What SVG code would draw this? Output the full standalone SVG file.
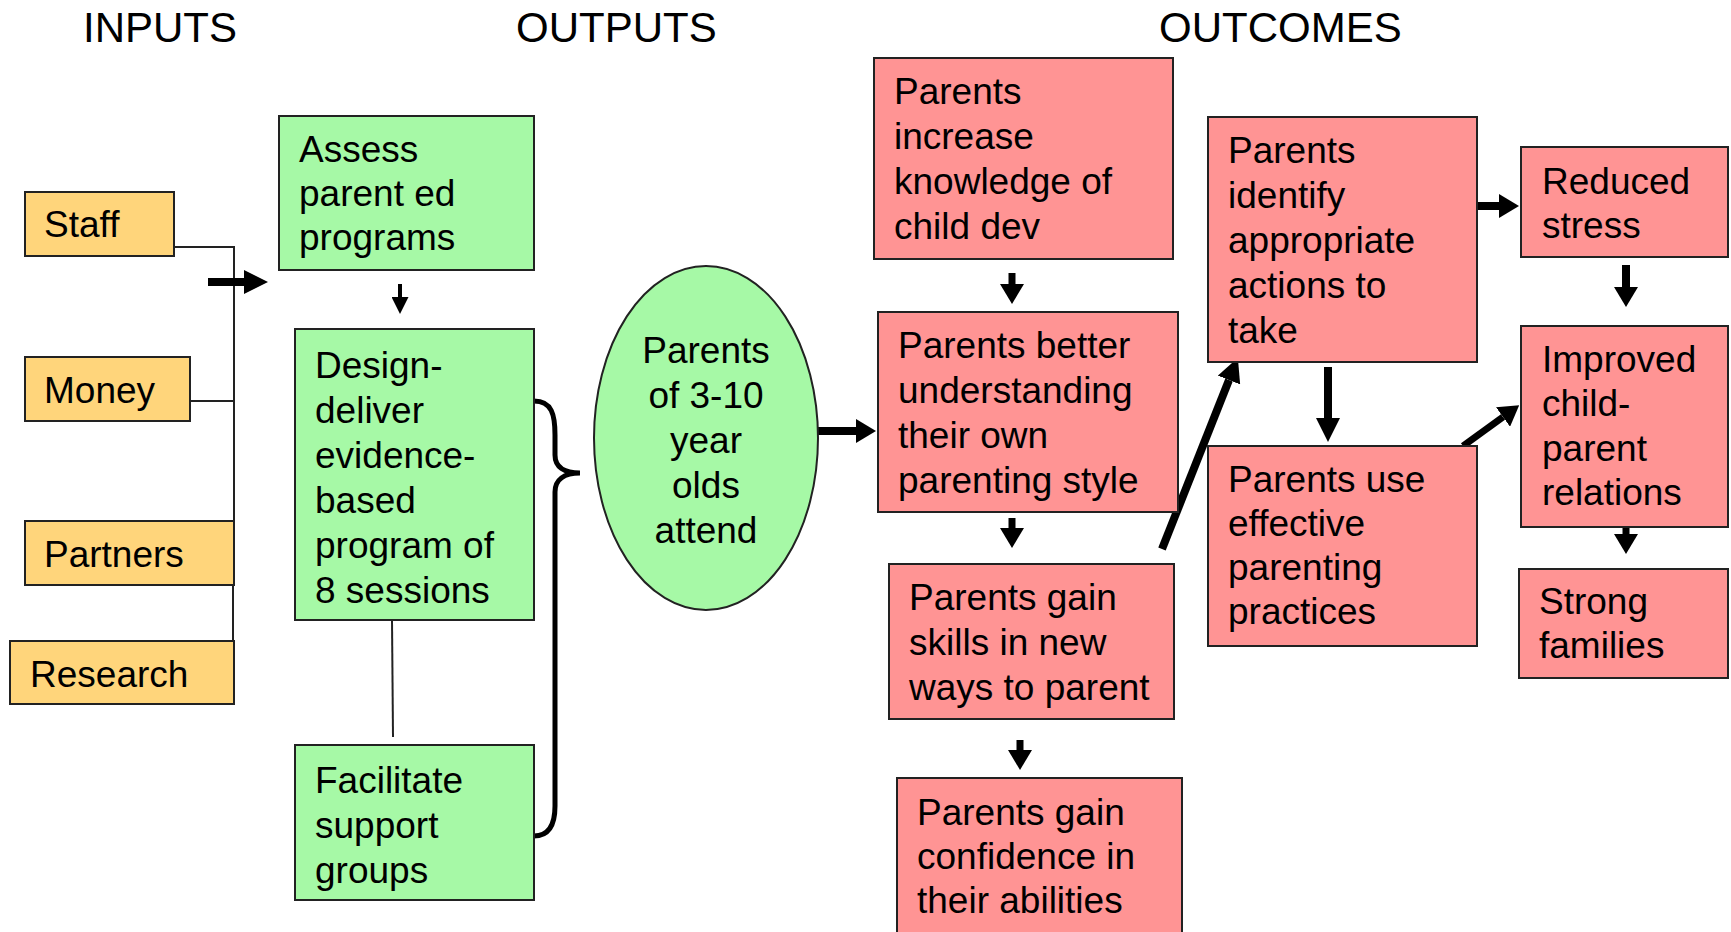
<svg xmlns="http://www.w3.org/2000/svg" width="1731" height="932" viewBox="0 0 1731 932">
  <style>
    text { font-family: "Liberation Sans", Arial, sans-serif; fill: #000; }
    .hdr { font-size: 42px; }
    .lbl { font-size: 37px; }
    .input { fill: #FFD57B; stroke: #222; stroke-width: 2; }
    .output { fill: #A6F9A6; stroke: #222; stroke-width: 2; }
    .outcome { fill: #FF9494; stroke: #222; stroke-width: 2; }
    .thin { fill: none; stroke: #222; stroke-width: 2; }
    .arr { fill: none; stroke: #000; stroke-linecap: butt; }
  </style>
  <defs>
    <marker id="headS" markerUnits="userSpaceOnUse" markerWidth="17" markerHeight="17" viewBox="0 0 17 17" refX="0" refY="8.5" orient="auto">
      <path d="M0,0 L17,8.5 L0,17 z" fill="#000"/>
    </marker>
    <marker id="headM" markerUnits="userSpaceOnUse" markerWidth="20" markerHeight="24" viewBox="0 0 20 24" refX="0" refY="12" orient="auto">
      <path d="M0,0 L20,12 L0,24 z" fill="#000"/>
    </marker>
    <marker id="headL" markerUnits="userSpaceOnUse" markerWidth="24" markerHeight="24" viewBox="0 0 24 24" refX="0" refY="12" orient="auto">
      <path d="M0,0 L24,12 L0,24 z" fill="#000"/>
    </marker>
  </defs>

  <!-- column headings -->
  <g id="headings">
    <text class="hdr" x="83" y="42">INPUTS</text>
    <text class="hdr" x="516" y="42">OUTPUTS</text>
    <text class="hdr" x="1159" y="42">OUTCOMES</text>
  </g>

  <!-- connectors -->
  <g id="connectors">
    <!-- input bus -->
    <polyline class="thin" points="174,247 234,247 234,521"/>
    <line class="thin" x1="190" y1="401" x2="234" y2="401"/>
    <line class="thin" x1="233" y1="585" x2="233" y2="641"/>
    <line class="arr" x1="208" y1="282" x2="244" y2="282" stroke-width="8" marker-end="url(#headL)"/>
    <!-- outputs -->
    <line class="arr" x1="400" y1="284" x2="400" y2="297" stroke-width="4" marker-end="url(#headS)"/>
    <line class="thin" x1="392" y1="620" x2="393" y2="737"/>
    <path d="M534,401 C552,401 555,415 555,435 L555,455 C555,467 564,473 580,473 C564,473 555,480 555,492 L555,806 C555,826 548,836 534,836" fill="none" stroke="#000" stroke-width="5"/>
    <line class="arr" x1="818" y1="431" x2="856" y2="431" stroke-width="8" marker-end="url(#headM)"/>
    <!-- outcomes -->
    <line class="arr" x1="1012" y1="273" x2="1012" y2="284" stroke-width="7" marker-end="url(#headM)"/>
    <line class="arr" x1="1012" y1="518" x2="1012" y2="528" stroke-width="7" marker-end="url(#headM)"/>
    <line class="arr" x1="1020" y1="740" x2="1020" y2="750" stroke-width="7" marker-end="url(#headM)"/>
    <line class="arr" x1="1162" y1="549" x2="1229" y2="380" stroke-width="8" marker-end="url(#headL)"/>
    <line class="arr" x1="1328" y1="367" x2="1328" y2="418" stroke-width="8" marker-end="url(#headL)"/>
    <line class="arr" x1="1477" y1="206" x2="1499" y2="206" stroke-width="8" marker-end="url(#headM)"/>
    <line class="arr" x1="1626" y1="265" x2="1626" y2="287" stroke-width="8" marker-end="url(#headM)"/>
    <line class="arr" x1="1463" y1="446" x2="1503" y2="417" stroke-width="7" marker-end="url(#headM)"/>
    <line class="arr" x1="1626" y1="522" x2="1626" y2="534" stroke-width="7" marker-end="url(#headM)"/>
  </g>

  <!-- inputs -->
  <g id="staff">
    <rect class="input" x="25" y="192" width="149" height="64"/>
    <text class="lbl" x="44" y="237">Staff</text>
  </g>
  <g id="money">
    <rect class="input" x="25" y="357" width="165" height="64"/>
    <text class="lbl" x="44" y="403">Money</text>
  </g>
  <g id="partners">
    <rect class="input" x="25" y="521" width="209" height="64"/>
    <text class="lbl" x="44" y="567">Partners</text>
  </g>
  <g id="research">
    <rect class="input" x="10" y="641" width="224" height="63"/>
    <text class="lbl" x="30" y="687">Research</text>
  </g>

  <!-- outputs -->
  <g id="assess">
    <rect class="output" x="279" y="116" width="255" height="154"/>
    <text class="lbl" x="299" y="162">Assess</text>
    <text class="lbl" x="299" y="206">parent ed</text>
    <text class="lbl" x="299" y="250">programs</text>
  </g>
  <g id="design">
    <rect class="output" x="295" y="329" width="239" height="291"/>
    <text class="lbl" x="315" y="378">Design-</text>
    <text class="lbl" x="315" y="423">deliver</text>
    <text class="lbl" x="315" y="468">evidence-</text>
    <text class="lbl" x="315" y="513">based</text>
    <text class="lbl" x="315" y="558">program of</text>
    <text class="lbl" x="315" y="603">8 sessions</text>
  </g>
  <g id="facilitate">
    <rect class="output" x="295" y="745" width="239" height="155"/>
    <text class="lbl" x="315" y="793">Facilitate</text>
    <text class="lbl" x="315" y="838">support</text>
    <text class="lbl" x="315" y="883">groups</text>
  </g>
  <g id="attend">
    <ellipse class="output" cx="706" cy="438" rx="112" ry="172"/>
    <text class="lbl" x="706" y="363" text-anchor="middle">Parents</text>
    <text class="lbl" x="706" y="408" text-anchor="middle">of 3-10</text>
    <text class="lbl" x="706" y="453" text-anchor="middle">year</text>
    <text class="lbl" x="706" y="498" text-anchor="middle">olds</text>
    <text class="lbl" x="706" y="543" text-anchor="middle">attend</text>
  </g>

  <!-- outcomes -->
  <g id="knowledge">
    <rect class="outcome" x="874" y="58" width="299" height="201"/>
    <text class="lbl" x="894" y="104">Parents</text>
    <text class="lbl" x="894" y="149">increase</text>
    <text class="lbl" x="894" y="194">knowledge of</text>
    <text class="lbl" x="894" y="239">child dev</text>
  </g>
  <g id="style">
    <rect class="outcome" x="878" y="312" width="300" height="200"/>
    <text class="lbl" x="898" y="358">Parents better</text>
    <text class="lbl" x="898" y="403">understanding</text>
    <text class="lbl" x="898" y="448">their own</text>
    <text class="lbl" x="898" y="493">parenting style</text>
  </g>
  <g id="skills">
    <rect class="outcome" x="889" y="564" width="285" height="155"/>
    <text class="lbl" x="909" y="610">Parents gain</text>
    <text class="lbl" x="909" y="655">skills in new</text>
    <text class="lbl" x="909" y="700">ways to parent</text>
  </g>
  <g id="confidence">
    <rect class="outcome" x="897" y="778" width="285" height="170"/>
    <text class="lbl" x="917" y="825">Parents gain</text>
    <text class="lbl" x="917" y="869">confidence in</text>
    <text class="lbl" x="917" y="913">their abilities</text>
  </g>
  <g id="identify">
    <rect class="outcome" x="1208" y="117" width="269" height="245"/>
    <text class="lbl" x="1228" y="163">Parents</text>
    <text class="lbl" x="1228" y="208">identify</text>
    <text class="lbl" x="1228" y="253">appropriate</text>
    <text class="lbl" x="1228" y="298">actions to</text>
    <text class="lbl" x="1228" y="343">take</text>
  </g>
  <g id="practices">
    <rect class="outcome" x="1208" y="446" width="269" height="200"/>
    <text class="lbl" x="1228" y="492">Parents use</text>
    <text class="lbl" x="1228" y="536">effective</text>
    <text class="lbl" x="1228" y="580">parenting</text>
    <text class="lbl" x="1228" y="624">practices</text>
  </g>
  <g id="stress">
    <rect class="outcome" x="1521" y="147" width="207" height="110"/>
    <text class="lbl" x="1542" y="194">Reduced</text>
    <text class="lbl" x="1542" y="238">stress</text>
  </g>
  <g id="relations">
    <rect class="outcome" x="1521" y="326" width="207" height="201"/>
    <text class="lbl" x="1542" y="372">Improved</text>
    <text class="lbl" x="1542" y="416">child-</text>
    <text class="lbl" x="1542" y="461">parent</text>
    <text class="lbl" x="1542" y="505">relations</text>
  </g>
  <g id="families">
    <rect class="outcome" x="1519" y="569" width="209" height="109"/>
    <text class="lbl" x="1539" y="614">Strong</text>
    <text class="lbl" x="1539" y="658">families</text>
  </g>
</svg>
